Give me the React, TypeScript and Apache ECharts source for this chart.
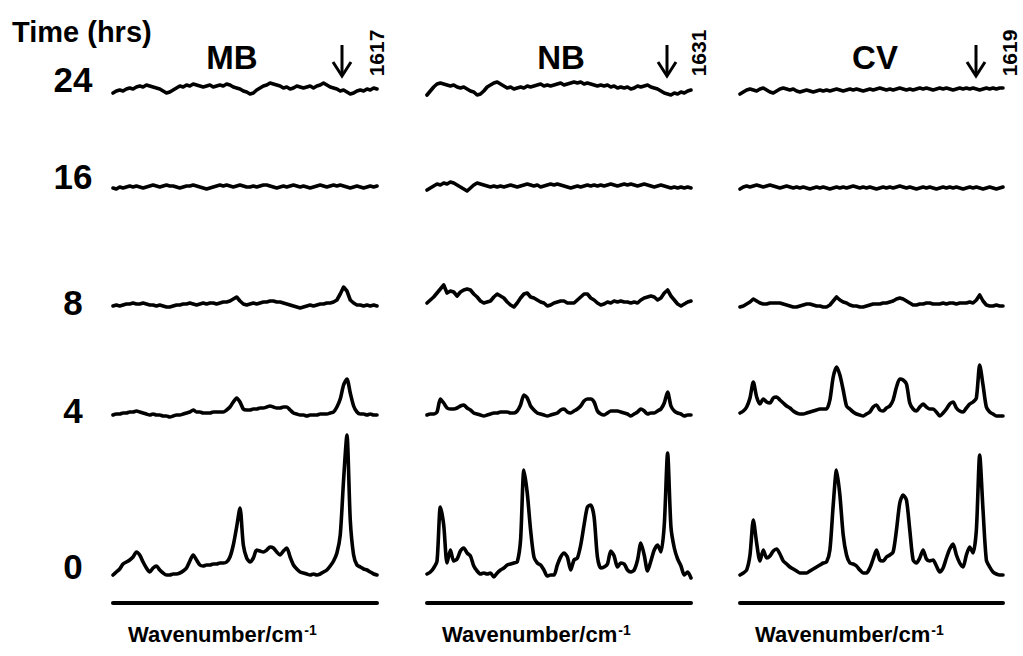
import React, { useEffect, useRef } from "react";
import * as echarts from "echarts";

// ---- data ----
const panelNames = ["MB", "NB", "CV"];
const peakLabels = ["1617", "1631", "1619"];
const timeLabels = ["0", "4", "8", "16", "24"];
// vertical stacking offset of each time trace (same order as timeLabels)
const stackOffsets = [28, 188, 297, 415, 512];

const mb0 = [0,3,6,11,13,15,18,23,20,13, 7,3,7,9,5,2,0,0,1,1, 2,4,7,14,20,15,10,9,10,10, 11,11,12,12,13,18,30,48,67,30, 17,13,17,25,24,23,25,28,27,23, 20,24,27,18,10,6,3,2,1,0, 1,0,1,3,5,9,14,22,40,95, 140,55,20,10,8,6,5,3,1,0];
const mb4 = [0,1,1,2,2,3,3,4,3,2, 1,0,1,0,0,-1,-1,-2,-1,0, 0,1,2,3,5,3,3,2,2,2, 3,3,3,3,5,8,13,17,13,6, 5,5,6,6,7,7,8,9,8,7, 7,8,8,5,2,1,0,0,-1,0, 0,0,1,1,1,2,3,8,16,30, 36,22,9,3,1,1,0,1,0,0];
const mb8 = [0,1,0,1,2,2,3,2,2,3, 2,1,1,0,1,0,-1,-1,0,1, 1,2,2,3,2,1,2,3,2,3, 3,2,3,4,4,5,7,9,5,2, 1,2,3,2,3,4,4,5,5,4, 4,3,2,1,0,-1,-2,-1,0,1, 0,1,2,2,3,3,4,6,12,19, 15,6,3,1,1,0,1,0,1,0];
const mb16 = [0,-1,1,0,1,2,1,2,1,0, 1,2,3,2,1,2,3,2,2,1, 0,1,2,2,3,2,1,0,-1,0, 1,2,3,2,3,2,1,2,3,2, 1,1,2,1,2,3,3,2,1,0, 1,2,1,2,3,2,1,2,1,0, 1,2,3,2,1,2,3,2,3,2, 1,0,1,2,1,0,1,2,1,2];
const mb24 = [-2,0,1,0,2,3,2,4,5,4, 6,5,4,3,2,0,-2,-1,1,3, 5,4,6,5,7,6,5,4,5,6, 4,5,6,5,7,6,4,3,2,0, -1,-3,-2,1,3,5,6,8,7,6, 5,3,4,2,3,5,4,3,4,5, 3,5,6,8,6,4,3,2,0,1, -1,-3,-2,0,1,0,2,1,3,2];

const nb0 = [1,3,7,14,68,50,12,25,14,16, 24,27,22,19,9,4,1,2,1,2, -2,2,5,7,10,11,12,13,35,105, 82,45,18,12,10,5,-1,0,0,10, 18,22,18,5,15,17,30,50,68,70, 58,18,7,8,11,24,19,8,12,11, 5,3,5,15,32,20,4,14,25,30, 23,50,122,48,27,16,9,0,3,-3];
const nb4 = [0,1,1,3,16,12,7,6,6,7, 9,10,7,5,2,1,0,-1,0,1, 2,2,3,3,3,2,2,4,10,20, 17,9,5,2,1,0,-1,0,1,2, 5,6,3,2,4,6,9,14,16,16, 13,4,1,0,2,4,4,4,3,2, 1,-1,1,3,6,4,1,2,2,4, 6,12,23,9,4,2,1,-1,0,0];
const nb8 = [3,6,9,13,17,21,13,15,14,10, 14,16,17,16,12,9,5,3,4,5, 9,12,10,8,4,1,-1,3,8,12, 13,9,8,6,4,3,0,1,3,4, 5,5,3,3,3,6,9,12,12,8, 6,3,1,2,4,3,5,4,5,4, 4,3,4,3,6,8,9,10,9,6, 8,13,16,10,6,2,0,2,4,5];
const nb16 = [-2,0,2,4,3,5,4,6,5,3, 1,-1,-3,0,3,5,4,3,2,1, 2,1,2,1,2,3,2,1,2,3, 4,3,2,3,1,2,3,4,3,4, 3,2,1,0,1,2,1,2,3,2, 3,2,3,2,3,4,3,2,3,4, 3,4,3,2,3,4,3,2,1,2, 3,2,1,0,1,0,1,0,1,0];
const nb24 = [-4,0,4,7,8,7,6,5,6,4, 3,4,2,0,-1,-4,-3,0,4,6, 8,9,7,5,3,4,2,3,4,3, 5,4,5,6,7,5,6,5,6,7, 8,6,7,8,9,8,9,7,8,7, 6,5,6,5,6,4,5,3,4,3, 4,2,3,5,4,5,6,4,3,2, 0,-2,-3,-4,-2,-3,-1,-2,0,1];

const cv0 = [0,2,5,20,55,32,14,25,17,19, 24,26,21,14,11,8,6,4,2,2, 2,4,6,8,10,12,13,25,70,105, 80,40,20,12,11,9,5,2,2,7, 16,25,15,14,18,20,23,45,72,80, 75,45,15,12,17,25,16,14,15,9, 3,7,17,26,31,20,12,8,20,28, 22,45,120,65,15,8,3,1,0,0];
const cv4 = [2,4,8,17,33,18,11,16,13,12, 17,18,15,12,9,7,4,2,1,1, 2,3,4,5,6,6,6,15,38,48, 40,25,9,6,3,1,0,-1,1,3, 8,10,5,4,7,9,15,28,36,35, 31,12,6,4,8,11,8,6,6,3, -1,2,6,11,13,7,4,3,7,11, 13,17,50,30,8,3,1,-1,-1,-1];
const cv8 = [-1,0,2,4,7,5,3,2,2,3, 3,3,3,2,1,0,-1,-1,0,1, 2,2,1,0,0,-1,-1,1,5,9, 6,4,3,1,0,0,-1,-1,0,1, 2,2,2,3,3,4,5,7,8,7, 5,3,1,1,2,2,3,3,2,2, 2,3,2,3,3,2,3,3,3,4, 3,6,11,5,1,0,0,1,0,0];
const cv16 = [-1,1,2,1,2,3,2,1,2,3, 2,1,0,1,2,1,0,1,0,1, 0,-1,0,1,0,1,0,-1,0,1, 0,1,0,1,2,1,0,1,0,1, 0,-1,0,1,0,1,0,1,2,1, 0,1,0,-1,0,1,0,1,0,-1, 0,1,0,1,0,1,0,-1,0,1, 0,1,0,-1,0,1,0,-1,0,1];
const cv24 = [-3,-1,1,2,1,0,2,3,1,-1, -2,0,2,3,2,1,2,0,-1,0, 1,0,-1,0,1,0,1,0,1,2, 1,0,1,2,1,2,1,0,1,2, 1,2,3,2,1,2,1,2,3,2, 1,2,1,2,3,2,3,2,1,2, 3,2,3,2,1,2,3,2,3,2, 3,2,1,2,3,2,3,2,3,3];

const panelSeries = [
  [mb0, mb4, mb8, mb16, mb24],
  [nb0, nb4, nb8, nb16, nb24],
  [cv0, cv4, cv8, cv16, cv24],
];

// ---- layout ----
const gridLefts = [113, 427, 740];
const gridWidths = [264, 264, 263];
const GRID_TOP = 30;
const GRID_H = 573;
const titleX = [232, 561, 875];
const arrowX = [342, 667, 976];
const peakLabelX = [376, 698, 1009];
const xNameX = [128, 442, 755];
const timeLabelY = [566, 410, 302, 176, 79];

const FONT = "'Liberation Sans', Arial, Helvetica, sans-serif";

export default function App() {
  const ref = useRef<HTMLDivElement>(null);

  useEffect(() => {
    if (!ref.current) return;
    const chart = echarts.init(ref.current, undefined, { renderer: "svg" });
    const sampleIdx = mb0.map((_, i) => String(i));

    const grids = panelNames.map((_, k) => ({
      left: gridLefts[k],
      width: gridWidths[k],
      top: GRID_TOP,
      height: GRID_H,
    }));
    const xAxes = panelNames.map((_, k) => ({
      type: "category",
      gridIndex: k,
      data: sampleIdx,
      boundaryGap: false,
      axisLine: { show: true, lineStyle: { color: "#000", width: 4 } },
      axisTick: { show: false },
      axisLabel: { show: false },
      splitLine: { show: false },
    }));
    const yAxes = panelNames.map((_, k) => ({
      type: "value",
      gridIndex: k,
      min: 0,
      max: GRID_H,
      show: false,
    }));
    const series: any[] = [];
    panelSeries.forEach((traces, k) => {
      traces.forEach((vals, t) => {
        series.push({
          type: "line",
          name: `${panelNames[k]} ${timeLabels[t]} h`,
          xAxisIndex: k,
          yAxisIndex: k,
          data: vals.map((v) => v + stackOffsets[t]),
          showSymbol: false,
          smooth: t < 2 ? 0.25 : false,
          silent: true,
          lineStyle: { color: "#000", width: 3.6, join: "round", cap: "round" },
        });
      });
    });

    const graphics: any[] = [];
    graphics.push({
      type: "text",
      x: 12,
      y: 32,
      style: {
        text: "Time (hrs)",
        font: `bold 29px ${FONT}`,
        fill: "#000",
        align: "left",
        verticalAlign: "middle",
        textAlign: "left",
        textVerticalAlign: "middle",
      },
    });
    timeLabels.forEach((lab, t) => {
      graphics.push({
        type: "text",
        x: 73,
        y: timeLabelY[t],
        style: {
          text: lab,
          font: `bold 35px ${FONT}`,
          fill: "#000",
          align: "center",
          verticalAlign: "middle",
          textAlign: "center",
          textVerticalAlign: "middle",
        },
      });
    });
    panelNames.forEach((name, k) => {
      graphics.push({
        type: "text",
        x: titleX[k],
        y: 57,
        style: {
          text: name,
          font: `bold 33px ${FONT}`,
          fill: "#000",
          align: "center",
          verticalAlign: "middle",
          textAlign: "center",
          textVerticalAlign: "middle",
        },
      });
      const ax = arrowX[k];
      graphics.push({
        type: "line",
        shape: { x1: ax, y1: 45, x2: ax, y2: 75 },
        style: { stroke: "#000", lineWidth: 3 },
      });
      graphics.push({
        type: "polyline",
        shape: { points: [[ax - 9, 62], [ax, 76], [ax + 9, 62]] },
        style: { stroke: "#000", lineWidth: 3, fill: "none" },
      });
      graphics.push({
        type: "text",
        x: peakLabelX[k],
        y: 53,
        rotation: Math.PI / 2,
        style: {
          text: peakLabels[k],
          font: `bold 21px ${FONT}`,
          fill: "#000",
          align: "center",
          verticalAlign: "middle",
          textAlign: "center",
          textVerticalAlign: "middle",
        },
      });
      graphics.push({
        type: "text",
        x: xNameX[k],
        y: 634,
        style: {
          text: "{a|Wavenumber/cm}{s|-1}",
          fill: "#000",
          align: "left",
          verticalAlign: "middle",
          textAlign: "left",
          textVerticalAlign: "middle",
          rich: {
            a: { font: `bold 22px ${FONT}`, fill: "#000", lineHeight: 25 },
            s: { font: `bold 14px ${FONT}`, fill: "#000", verticalAlign: "top", lineHeight: 25, padding: [1, 0, 0, 1] },
          },
        },
      });
    });

    chart.setOption({
      animation: false,
      backgroundColor: "#fff",
      grid: grids,
      xAxis: xAxes,
      yAxis: yAxes,
      series,
      graphic: { elements: graphics },
    });
    return () => chart.dispose();
  }, []);

  return (
    <div
      ref={ref}
      style={{ position: "fixed", left: 0, top: 0, width: 1023, height: 656, background: "#fff" }}
    />
  );
}
